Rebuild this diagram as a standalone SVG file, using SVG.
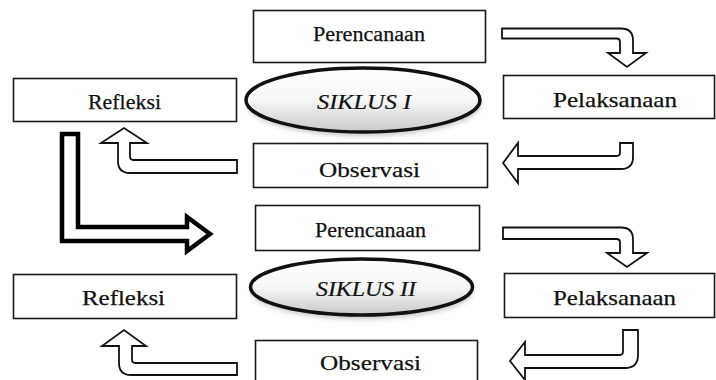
<svg xmlns="http://www.w3.org/2000/svg" width="716" height="380" viewBox="0 0 716 380">
<defs>
<linearGradient id="eg" x1="0" y1="0" x2="0" y2="1">
<stop offset="0" stop-color="#ffffff"/>
<stop offset="0.5" stop-color="#f7f7f7"/>
<stop offset="1" stop-color="#c8c8c8"/>
</linearGradient>
<filter id="sh" x="-20%" y="-30%" width="140%" height="170%">
<feGaussianBlur stdDeviation="2.5"/>
</filter>
</defs>
<style>
.box{fill:#fff;stroke:#1a1a1a;stroke-width:1.6}
.ell{fill:url(#eg);stroke:#111;stroke-width:3.5}
.shd{fill:#9a9a9a;opacity:0.55;filter:url(#sh)}
.t{font-family:"Liberation Serif","Times New Roman",serif;font-size:22px;fill:#111;stroke:#111;stroke-width:0.25}
.tp{font-size:20.5px}
.ti{font-family:"Liberation Serif","Times New Roman",serif;font-size:22px;font-style:italic;fill:#111;stroke:#111;stroke-width:0.2}
.arr{fill:#fff;stroke:#111;stroke-width:1.8;stroke-linejoin:miter}
.big{fill:#fff;stroke:#000;stroke-width:4.5;stroke-linejoin:miter}
</style>
<rect width="716" height="380" fill="#fff"/>

<g id="perencanaan1">
<rect class="box" x="253.5" y="10.5" width="232" height="52"/>
<text class="t tp" x="313" y="41" textLength="112" lengthAdjust="spacingAndGlyphs">Perencanaan</text>
</g>
<g id="siklus1">
<ellipse class="shd" cx="364" cy="104" rx="117" ry="32"/>
<ellipse class="ell" cx="363" cy="100" rx="117" ry="32"/>
<text class="ti" x="317" y="109" textLength="94" lengthAdjust="spacingAndGlyphs">SIKLUS I</text>
</g>
<g id="pelaksanaan1">
<rect class="box" x="503.5" y="75.5" width="211" height="43"/>
<text class="t" x="553" y="107" textLength="124" lengthAdjust="spacingAndGlyphs">Pelaksanaan</text>
</g>
<g id="observasi1">
<rect class="box" x="253.5" y="143.5" width="234" height="44"/>
<text class="t" x="319" y="176.5" textLength="101" lengthAdjust="spacingAndGlyphs">Observasi</text>
</g>
<g id="refleksi1">
<rect class="box" x="13.5" y="78.5" width="223" height="43"/>
<text class="t" x="88" y="108.5" textLength="73" lengthAdjust="spacingAndGlyphs">Refleksi</text>
</g>

<g id="perencanaan2">
<rect class="box" x="255.5" y="205.5" width="224" height="45"/>
<text class="t tp" x="315" y="237" textLength="111" lengthAdjust="spacingAndGlyphs">Perencanaan</text>
</g>
<g id="siklus2">
<ellipse class="shd" cx="362" cy="291" rx="111" ry="28"/>
<ellipse class="ell" cx="361.5" cy="287" rx="111" ry="28"/>
<text class="ti" x="316" y="296" textLength="100" lengthAdjust="spacingAndGlyphs">SIKLUS II</text>
</g>
<g id="pelaksanaan2">
<rect class="box" x="504.5" y="273.5" width="210" height="44"/>
<text class="t" x="553" y="305" textLength="123" lengthAdjust="spacingAndGlyphs">Pelaksanaan</text>
</g>
<g id="observasi2">
<rect class="box" x="255.5" y="340.5" width="222" height="50"/>
<text class="t" x="320" y="370" textLength="101" lengthAdjust="spacingAndGlyphs">Observasi</text>
</g>
<g id="refleksi2">
<rect class="box" x="13.5" y="274.5" width="223" height="44"/>
<text class="t" x="82" y="305" textLength="83" lengthAdjust="spacingAndGlyphs">Refleksi</text>
</g>

<g id="connectors">
<path class="arr" d="M502,28.5 H621 Q633,28.5 633,40.5 V53 H646 L627,67 L608,53 H620 V42 Q620,38.5 616.5,38.5 H502 Z"/>
<path class="arr" d="M620,143 H633 V157 Q633,169 621,169 H518 V183 L503,163 L518,143 V156 H616.5 Q620,156 620,152.5 Z"/>
<path class="arr" d="M237,160 H133.5 Q130,160 130,156.5 V143 H147 L124,128 L101,143 H118 V161 Q118,173 130,173 H237 Z"/>
<path class="big" d="M62,134 H78 V227 H187 V217 L210,234 L187,251 V241 H62 Z"/>
<path class="arr" d="M503,227.5 H621 Q633,227.5 633,239.5 V253 H647 L627,267 L607,253 H620 V242.5 Q620,239 616.5,239 H503 Z"/>
<path class="arr" d="M623,330 H638 V355 Q638,368 625,368 H525 V380 L510,361 L525,342 V355 H619.5 Q623,355 623,351.5 Z"/>
<path class="arr" d="M237,363 H135.5 Q132,363 132,359.5 V346 H146 L124,330 L102,346 H119 V363 Q119,375 131,375 H237 Z"/>
</g>
</svg>
